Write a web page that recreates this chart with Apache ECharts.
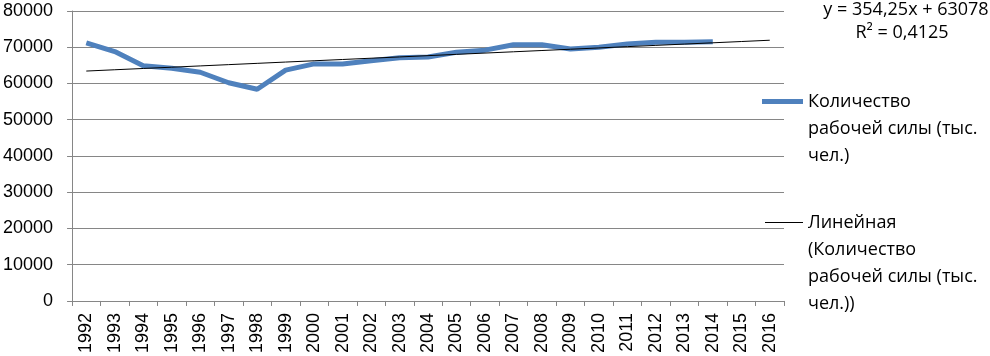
<!DOCTYPE html>
<html>
<head>
<meta charset="utf-8">
<script src="https://cdn.jsdelivr.net/npm/echarts@6/dist/echarts.min.js"></script>
<style>
html,body{margin:0;padding:0;background:#fff;}
#chart{width:990px;height:356px;}
</style>
</head>
<body>
<div id="chart"></div>
<script>
const years = ['1992','1993','1994','1995','1996','1997','1998','1999','2000','2001','2002','2003','2004','2005','2006','2007','2008','2009','2010','2011','2012','2013','2014','2015','2016'];
const laborForce = [71200, 68800, 64900, 64200, 63100, 60200, 58400, 63700, 65400, 65400, 66300, 67100, 67300, 68600, 69200, 70700, 70700, 69500, 70000, 70900, 71400, 71400, 71500];
const trendSlope = 354.25;
const trendIntercept = 63078;
const yTicks = [0, 80000, 10000];
const seriesName = 'Количество\nрабочей силы (тыс.\nчел.)';
const trendName = 'Линейная\n(Количество\nрабочей силы (тыс.\nчел.))';
const equationText = 'y = 354,25x + 63078';
const r2Text = 'R² = 0,4125';

const trendData = years.map((y, i) => +(trendSlope * (i + 1) + trendIntercept).toFixed(2));

// put the first text line level with the legend icon: pad with leading blank lines
function firstLineAtIcon(name) {
  const n = name.split('\n').length;
  return '\n'.repeat(n - 1) + name;
}

const chart = echarts.init(document.getElementById('chart'), null, {renderer: 'canvas'});
const legendFont = '"Open Sans", sans-serif';
const axisFont = '"Liberation Sans", Arial, sans-serif';
chart.setOption({
  animation: false,
  backgroundColor: '#ffffff',
  grid: {left: 71, right: 206, top: 11, bottom: 55, containLabel: false},
  xAxis: {
    type: 'category',
    data: years,
    boundaryGap: true,
    axisLine: {lineStyle: {color: '#868686', width: 1}},
    axisTick: {show: true, alignWithLabel: false, length: 5, lineStyle: {color: '#868686'}},
    axisLabel: {rotate: 90, margin: 12, color: '#000', fontSize: 18, fontFamily: axisFont, interval: 0}
  },
  yAxis: {
    type: 'value',
    min: yTicks[0], max: yTicks[1], interval: yTicks[2],
    axisLine: {show: true, lineStyle: {color: '#868686', width: 1}},
    axisTick: {show: true, length: 5, lineStyle: {color: '#868686'}},
    splitLine: {show: true, lineStyle: {color: '#868686', width: 1}},
    axisLabel: {margin: 19, color: '#000', fontSize: 18, fontFamily: axisFont, formatter: v => String(v)}
  },
  legend: [
    {
      data: [seriesName],
      left: 762, top: 34,
      padding: 0,
      orient: 'vertical',
      itemWidth: 41, itemHeight: 10, itemGap: 0,
      icon: 'path://M0,0 L41,0 L41,5 L0,5 Z',
      formatter: firstLineAtIcon,
      textStyle: {fontSize: 18, fontFamily: legendFont, color: '#000', lineHeight: 27},
      selectedMode: false
    },
    {
      data: [trendName],
      left: 765, top: 128,
      padding: 0,
      orient: 'vertical',
      itemWidth: 38, itemHeight: 10, itemGap: 0,
      icon: 'path://M0,0 L38,0 L38,1 L0,1 Z',
      formatter: firstLineAtIcon,
      textStyle: {fontSize: 18, fontFamily: legendFont, color: '#000', lineHeight: 27},
      selectedMode: false
    }
  ],
  graphic: [
    {type: 'text', x: 906, y: 10, style: {text: equationText, fontSize: 18, fontFamily: legendFont, fill: '#000', align: 'center', verticalAlign: 'middle'}},
    {type: 'text', x: 902, y: 33, style: {text: r2Text, fontSize: 18, fontFamily: legendFont, fill: '#000', align: 'center', verticalAlign: 'middle'}}
  ],
  series: [
    {
      name: seriesName,
      type: 'line',
      data: laborForce,
      symbol: 'none',
      lineStyle: {color: '#4f81bd', width: 5},
      itemStyle: {color: '#4f81bd'},
      z: 3
    },
    {
      name: trendName,
      type: 'line',
      data: trendData,
      symbol: 'none',
      lineStyle: {color: '#000', width: 1},
      itemStyle: {color: '#000'},
      z: 4
    }
  ]
});
</script>
</body>
</html>
